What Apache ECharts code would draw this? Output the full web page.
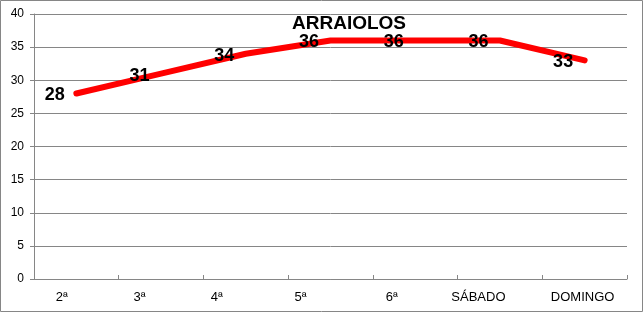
<!DOCTYPE html>
<html>
<head>
<meta charset="utf-8">
<script src="https://cdn.jsdelivr.net/npm/echarts@6/dist/echarts.min.js"></script>
<style>html,body{margin:0;padding:0;background:#fff}#c{width:644px;height:313px}</style>
</head>
<body>
<div id="c"></div>
<script>
const categories = ['2ª', '3ª', '4ª', '5ª', '6ª', 'SÁBADO', 'DOMINGO'];
const values = [28, 31, 34, 36, 36, 36, 33];
const title = 'ARRAIOLOS';
const yMin = 0, yMax = 40, yStep = 5;
// label shift (right padding) to mimic the original label placement
const labelPad = [29, 43, 58, 60, 47, 43, 4];

const rich = {};
labelPad.forEach((p, i) => { rich['p' + i] = { padding: [0, p, 0, 0], fontSize: 13, color: '#000', fontFamily: 'Liberation Sans' }; });

const chart = echarts.init(document.getElementById('c'), null, { renderer: 'canvas' });
chart.setOption({
  animation: false,
  backgroundColor: '#fff',
  title: {
    text: title, left: 344, top: 9, textAlign: 'center',
    textStyle: { fontFamily: 'Liberation Sans', fontWeight: 'bold', fontSize: 19, color: '#000' }
  },
  grid: { left: 34, right: 17, top: 14, bottom: 34, containLabel: false },
  xAxis: {
    type: 'category', data: categories, boundaryGap: true,
    axisLine: { lineStyle: { color: '#868686', width: 1 } },
    axisTick: { show: true, length: 4, inside: true, lineStyle: { color: '#868686' } },
    axisLabel: {
      margin: 12, interval: 0,
      formatter: (v, i) => '{p' + i + '|' + v + '}',
      rich: rich
    },
    splitLine: { show: false }
  },
  yAxis: {
    type: 'value', min: yMin, max: yMax, interval: yStep,
    axisLine: { show: true, lineStyle: { color: '#868686', width: 1 } },
    axisTick: { show: true, length: 4, lineStyle: { color: '#868686' } },
    axisLabel: { margin: 10, fontSize: 12, color: '#000', fontFamily: 'Liberation Sans' },
    splitLine: { lineStyle: { color: '#868686', width: 1 } }
  },
  series: [{
    type: 'line', data: values, showSymbol: true, symbol: 'circle', symbolSize: 1,
    itemStyle: { color: 'rgba(255,0,0,0)', borderWidth: 0 },
    lineStyle: { color: '#ff0000', width: 6, cap: 'round', join: 'round' },
    label: {
      show: true, position: 'left', distance: 11, offset: [0, 2],
      fontFamily: 'Liberation Sans', fontWeight: 'bold', fontSize: 18, color: '#000'
    }
  }],
  graphic: [{
    type: 'rect', shape: { x: 0.5, y: 0.5, width: 642, height: 311 },
    style: { fill: 'none', stroke: '#868686', lineWidth: 1 }, silent: true, z: 100
  }]
});
</script>
</body>
</html>
